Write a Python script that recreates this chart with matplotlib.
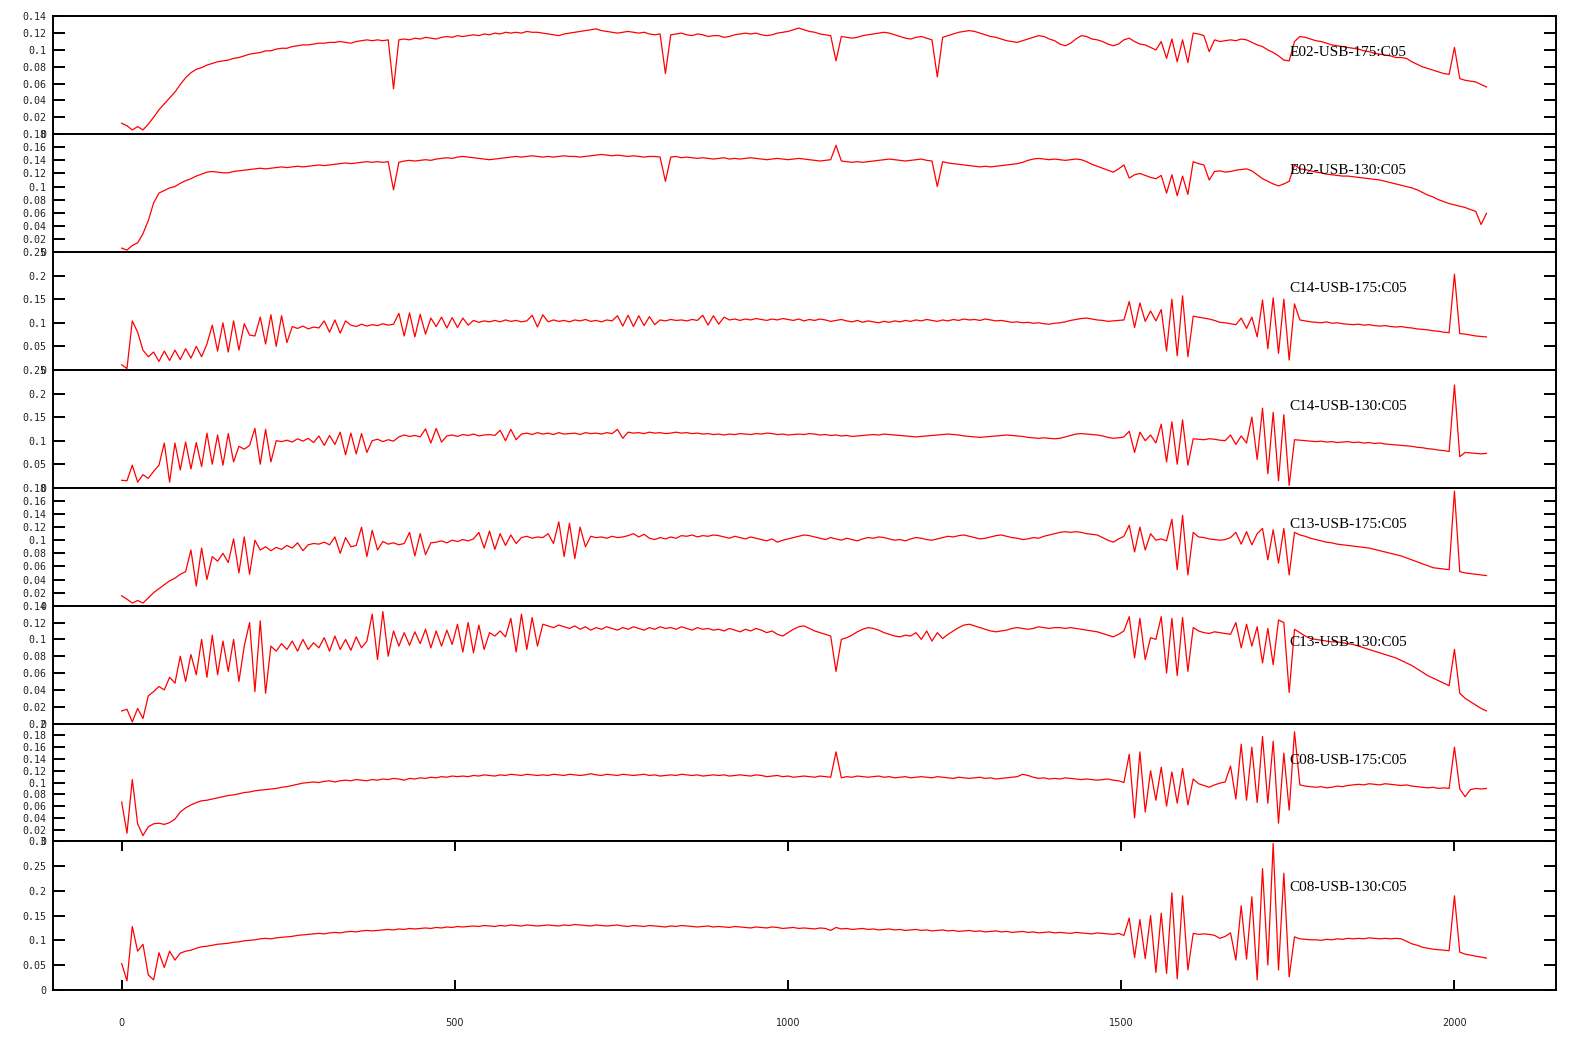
import numpy as np
import matplotlib
matplotlib.use('Agg')
import matplotlib.pyplot as plt

# every 8th channel of the 2048-channel spectra
channels = np.arange(0, 2049, 8)

# values, in units of 1e-3
e02_175 = [
    13, 10, 5, 9, 5, 12, 20, 29, 36, 43, 50, 59, 67, 73, 77, 79,
    82, 84, 86, 87, 88, 90, 91, 93, 95, 96, 97, 99, 99, 101, 102, 102,
    104, 105, 106, 106, 107, 108, 108, 109, 109, 110, 109, 108, 110, 111, 112, 111,
    112, 111, 112, 54, 112, 113, 112, 114, 113, 115, 114, 113, 115, 116, 115, 117,
    116, 117, 118, 117, 119, 118, 120, 119, 121, 120, 121, 120, 122, 121, 121, 120,
    119, 118, 117, 119, 120, 121, 122, 123, 124, 125, 123, 122, 121, 120, 121, 122,
    121, 120, 121, 119, 118, 119, 72, 118, 119, 120, 118, 117, 119, 118, 116, 117,
    117, 115, 116, 118, 119, 120, 119, 120, 118, 117, 118, 120, 121, 122, 124, 126,
    124, 122, 121, 119, 118, 117, 87, 116, 115, 114, 115, 117, 118, 119, 120, 121,
    120, 118, 116, 114, 113, 115, 116, 114, 112, 68, 115, 117, 119, 121, 122, 123,
    122, 120, 118, 116, 115, 113, 111, 110, 109, 111, 113, 115, 117, 116, 113, 111,
    107, 105, 108, 113, 117, 116, 113, 112, 110, 107, 105, 107, 112, 114, 110, 107,
    106, 103, 100, 110, 90, 113, 86, 112, 85, 120, 119, 117, 98, 112, 110, 111,
    112, 111, 113, 112, 109, 106, 104, 100, 97, 93, 88, 87, 110, 116, 115, 113,
    111, 110, 108, 106, 105, 104, 103, 102, 101, 99, 98, 96, 95, 94, 93, 91,
    91, 90, 86, 83, 80, 78, 76, 74, 72, 71, 103, 66, 64, 63, 62, 59,
    56]

e02_130 = [
    6, 3, 10, 14, 28, 48, 75, 90, 94, 98, 100, 105, 109, 112, 116, 119,
    122, 123, 122, 121, 121, 123, 124, 125, 126, 127, 128, 127, 128, 129, 130, 129,
    130, 131, 130, 131, 132, 133, 132, 133, 134, 135, 136, 135, 136, 137, 138, 137,
    138, 137, 138, 95, 137, 139, 140, 139, 140, 141, 140, 142, 143, 144, 143, 145,
    146, 145, 144, 143, 142, 141, 142, 143, 144, 145, 146, 145, 146, 147, 146, 145,
    146, 145, 146, 147, 146, 146, 145, 146, 147, 148, 149, 148, 147, 148, 147, 146,
    147, 146, 145, 146, 146, 145, 108, 145, 146, 144, 145, 144, 143, 144, 143, 142,
    143, 144, 142, 143, 142, 143, 144, 143, 142, 141, 142, 143, 142, 141, 142, 143,
    142, 141, 140, 139, 140, 141, 163, 139, 138, 137, 138, 137, 138, 139, 140, 141,
    142, 141, 140, 139, 140, 141, 142, 140, 139, 100, 138, 136, 135, 134, 133, 132,
    131, 130, 131, 130, 131, 132, 133, 134, 135, 137, 140, 142, 143, 142, 141, 142,
    141, 140, 141, 142, 141, 138, 134, 131, 128, 125, 122, 127, 133, 113, 118, 120,
    117, 114, 112, 117, 90, 118, 86, 116, 88, 138, 135, 133, 110, 123, 124, 122,
    123, 125, 126, 127, 124, 118, 112, 108, 104, 101, 104, 108, 133, 127, 126, 124,
    122, 121, 119, 118, 117, 116, 116, 115, 114, 113, 112, 111, 110, 108, 106, 104,
    102, 100, 98, 95, 91, 87, 84, 80, 77, 74, 72, 70, 68, 65, 62, 42,
    59]

c14_175 = [
    11, 3, 104, 80, 42, 28, 38, 18, 40, 20, 42, 22, 45, 25, 50, 28,
    55, 95, 40, 100, 38, 104, 42, 98, 74, 72, 112, 55, 117, 50, 115, 58,
    92, 88, 93, 87, 91, 89, 104, 80, 106, 78, 104, 95, 92, 97, 93, 96,
    94, 98, 95, 97, 120, 72, 121, 70, 118, 76, 110, 92, 112, 89, 111, 90,
    110, 95, 105, 101, 104, 102, 105, 102, 106, 103, 105, 102, 104, 116, 91, 117,
    102, 106, 103, 105, 102, 106, 104, 107, 103, 105, 102, 106, 104, 115, 93, 116,
    92, 115, 94, 113, 96, 106, 104, 107, 105, 106, 104, 107, 105, 116, 95, 115,
    97, 112, 106, 108, 105, 108, 106, 109, 107, 105, 108, 106, 109, 107, 105, 108,
    104, 107, 105, 108, 106, 103, 105, 107, 104, 102, 105, 101, 104, 102, 100, 103,
    101, 104, 102, 105, 103, 106, 104, 107, 105, 103, 106, 104, 107, 105, 108, 106,
    107, 105, 108, 106, 104, 105, 103, 101, 102, 100, 101, 99, 100, 98, 97, 99,
    100, 102, 105, 107, 109, 110, 108, 106, 105, 103, 104, 105, 106, 145, 90, 142,
    103, 125, 104, 128, 40, 150, 30, 157, 28, 114, 112, 110, 108, 105, 101, 100,
    98, 96, 110, 88, 112, 70, 148, 45, 153, 35, 150, 21, 140, 106, 104, 102,
    101, 100, 102, 99, 100, 98, 97, 96, 97, 95, 96, 94, 93, 94, 92, 91,
    92, 90, 89, 87, 86, 85, 83, 82, 80, 79, 203, 77, 76, 74, 72, 71,
    70]

c14_130 = [
    16, 15, 48, 12, 28, 20, 35, 48, 95, 12, 95, 38, 97, 40, 96, 45,
    116, 50, 112, 48, 115, 55, 88, 82, 90, 126, 50, 124, 55, 100, 98, 101,
    97, 104, 99, 105, 96, 110, 90, 111, 92, 118, 70, 116, 72, 115, 75, 100,
    103, 98, 102, 99, 108, 112, 109, 111, 108, 125, 95, 126, 97, 110, 112, 109,
    113, 111, 114, 110, 112, 113, 111, 122, 100, 124, 102, 114, 116, 113, 117, 114,
    116, 113, 117, 114, 115, 116, 113, 117, 115, 116, 114, 117, 115, 124, 105, 118,
    116, 117, 115, 118, 116, 117, 115, 116, 118, 116, 117, 115, 116, 114, 115, 113,
    114, 112, 114, 113, 115, 114, 113, 115, 114, 116, 115, 113, 114, 112, 113, 114,
    113, 115, 114, 112, 113, 111, 112, 110, 111, 109, 110, 111, 112, 113, 112, 114,
    113, 112, 111, 110, 109, 108, 109, 110, 111, 112, 113, 114, 113, 112, 110, 109,
    108, 107, 108, 109, 110, 111, 112, 111, 110, 109, 107, 106, 105, 106, 105, 104,
    105, 108, 111, 114, 115, 114, 113, 112, 110, 107, 105, 106, 108, 120, 75, 118,
    100, 112, 95, 135, 55, 140, 50, 144, 48, 104, 103, 102, 104, 103, 101, 100,
    112, 92, 110, 95, 150, 60, 169, 30, 160, 15, 155, 5, 102, 101, 100, 99,
    98, 99, 97, 98, 96, 97, 98, 96, 97, 95, 96, 94, 95, 93, 92, 91,
    90, 89, 88, 86, 85, 83, 82, 80, 79, 77, 218, 66, 75, 74, 73, 72,
    73]

c13_175 = [
    15, 10, 4, 8, 4, 12, 20, 26, 32, 38, 42, 48, 52, 85, 30, 88,
    40, 75, 68, 80, 66, 102, 50, 105, 48, 100, 85, 90, 84, 89, 86, 92,
    88, 96, 84, 93, 95, 94, 97, 93, 105, 80, 104, 90, 92, 120, 75, 115,
    85, 98, 94, 96, 93, 95, 112, 76, 110, 78, 96, 97, 99, 96, 100, 98,
    101, 99, 102, 112, 88, 114, 86, 110, 92, 108, 95, 104, 106, 103, 105, 104,
    110, 95, 128, 75, 126, 72, 120, 90, 106, 104, 105, 103, 106, 104, 105, 107,
    110, 105, 109, 103, 101, 104, 102, 105, 103, 107, 106, 108, 105, 107, 106, 108,
    107, 105, 103, 106, 104, 102, 105, 103, 101, 99, 102, 97, 100, 102, 104, 106,
    108, 107, 105, 103, 101, 104, 102, 100, 103, 101, 99, 102, 104, 103, 105, 104,
    102, 100, 101, 99, 102, 104, 103, 101, 100, 102, 104, 106, 105, 107, 108, 106,
    104, 102, 103, 105, 107, 108, 106, 104, 103, 101, 102, 104, 103, 106, 108, 110,
    112, 113, 112, 113, 112, 110, 109, 108, 104, 100, 97, 102, 106, 123, 82, 120,
    85, 110, 100, 102, 99, 132, 55, 138, 47, 112, 105, 104, 102, 101, 100, 101,
    104, 112, 94, 113, 93, 110, 118, 70, 116, 65, 118, 47, 112, 108, 106, 103,
    101, 99, 97, 96, 94, 93, 92, 91, 90, 89, 88, 86, 84, 82, 80, 78,
    76, 73, 70, 67, 64, 61, 58, 57, 56, 55, 175, 52, 50, 49, 48, 47,
    46]

c13_130 = [
    15, 17, 2, 18, 6, 33, 38, 44, 40, 55, 48, 80, 50, 82, 58, 100,
    55, 105, 58, 98, 62, 100, 50, 92, 120, 38, 122, 36, 92, 86, 95, 88,
    98, 86, 100, 88, 96, 90, 102, 86, 104, 88, 100, 87, 103, 90, 98, 130,
    76, 133, 80, 110, 92, 108, 93, 109, 95, 112, 90, 110, 92, 111, 94, 118,
    85, 120, 84, 117, 88, 108, 104, 110, 103, 125, 85, 130, 88, 126, 92, 118,
    116, 114, 117, 115, 113, 116, 112, 115, 111, 114, 112, 115, 113, 111, 114, 112,
    115, 113, 111, 114, 112, 115, 113, 114, 112, 115, 113, 111, 114, 112, 113, 111,
    112, 110, 113, 111, 109, 112, 110, 113, 111, 108, 110, 106, 104, 108, 112, 115,
    116, 113, 110, 108, 106, 104, 62, 100, 102, 105, 109, 112, 114, 113, 111, 108,
    106, 104, 103, 105, 104, 108, 100, 110, 98, 108, 101, 106, 110, 114, 117, 118,
    116, 114, 112, 110, 109, 110, 111, 113, 114, 113, 112, 113, 115, 114, 113, 114,
    114, 113, 114, 113, 112, 111, 110, 109, 107, 105, 103, 106, 110, 127, 78, 125,
    76, 102, 100, 127, 60, 125, 57, 126, 62, 114, 110, 108, 107, 109, 108, 107,
    106, 120, 90, 118, 92, 115, 72, 113, 70, 123, 120, 37, 112, 108, 104, 101,
    100, 99, 98, 97, 97, 96, 95, 94, 92, 90, 88, 86, 84, 82, 80, 78,
    75, 72, 69, 65, 61, 57, 54, 51, 48, 45, 88, 36, 30, 26, 22, 18,
    15]

c08_175 = [
    67, 14, 105, 30, 10, 25, 30, 31, 29, 32, 38, 50, 57, 62, 66, 69,
    70, 72, 74, 76, 78, 79, 81, 83, 84, 86, 87, 88, 89, 90, 92, 93,
    95, 97, 99, 100, 101, 100, 102, 103, 101, 103, 104, 103, 105, 104, 103, 105,
    104, 106, 105, 107, 106, 104, 107, 106, 108, 107, 109, 108, 110, 109, 111, 110,
    111, 110, 112, 111, 113, 112, 111, 113, 112, 114, 113, 112, 114, 113, 112, 113,
    112, 114, 113, 112, 114, 113, 112, 113, 115, 113, 112, 114, 113, 112, 114, 113,
    112, 113, 114, 112, 113, 111, 112, 113, 112, 114, 113, 112, 113, 111, 112, 113,
    112, 113, 111, 112, 113, 112, 111, 113, 112, 110, 111, 112, 110, 111, 109, 110,
    111, 110, 109, 111, 110, 109, 152, 108, 110, 109, 111, 110, 109, 110, 111, 109,
    110, 108, 109, 110, 108, 109, 110, 109, 108, 110, 109, 108, 107, 109, 108, 107,
    108, 109, 107, 108, 106, 107, 108, 109, 110, 114, 112, 109, 107, 108, 106, 107,
    106, 108, 107, 106, 105, 106, 105, 104, 105, 106, 104, 103, 100, 148, 40, 152,
    50, 120, 70, 126, 60, 118, 65, 124, 62, 106, 98, 95, 92, 96, 99, 101,
    128, 72, 165, 70, 160, 66, 178, 65, 170, 31, 150, 53, 186, 96, 94, 93,
    92, 93, 91, 92, 94, 93, 95, 96, 97, 96, 98, 97, 96, 98, 97, 96,
    95, 96, 94, 93, 92, 91, 92, 90, 91, 90, 160, 89, 76, 88, 90, 89,
    90]

c08_130 = [
    53, 18, 128, 78, 92, 30, 20, 75, 45, 78, 60, 74, 78, 80, 84, 87,
    88, 90, 92, 93, 94, 96, 97, 99, 100, 101, 103, 104, 103, 105, 106, 107,
    108, 110, 111, 112, 113, 114, 113, 115, 116, 115, 117, 118, 117, 119, 120, 119,
    120, 121, 122, 121, 123, 122, 124, 123, 124, 125, 124, 126, 125, 127, 126, 128,
    127, 128, 129, 128, 130, 129, 128, 130, 129, 131, 130, 129, 131, 130, 129, 130,
    131, 130, 129, 131, 130, 132, 131, 130, 129, 131, 130, 129, 130, 131, 129, 128,
    130, 129, 128, 130, 129, 128, 127, 129, 128, 130, 129, 128, 127, 128, 129, 127,
    128, 127, 126, 128, 127, 126, 125, 127, 126, 125, 127, 126, 124, 125, 126, 124,
    125, 124, 123, 125, 124, 120, 126, 123, 124, 122, 123, 124, 122, 123, 121, 122,
    123, 121, 122, 120, 121, 122, 120, 121, 119, 120, 121, 119, 120, 118, 119, 120,
    118, 119, 117, 118, 119, 117, 118, 116, 117, 118, 116, 117, 115, 116, 117, 115,
    116, 115, 114, 116, 115, 114, 113, 115, 114, 113, 112, 114, 110, 145, 65, 142,
    63, 150, 35, 155, 33, 196, 22, 190, 40, 114, 112, 113, 112, 110, 104, 108,
    115, 60, 170, 62, 188, 20, 245, 50, 296, 40, 236, 26, 107, 103, 102, 101,
    101, 100, 102, 101, 103, 102, 104, 103, 104, 103, 105, 104, 103, 104, 103, 104,
    103, 98, 93, 90, 86, 84, 82, 81, 80, 79, 190, 76, 72, 70, 68, 66,
    64]

names = ['E02-USB-175:C05', 'E02-USB-130:C05', 'C14-USB-175:C05', 'C14-USB-130:C05',
         'C13-USB-175:C05', 'C13-USB-130:C05', 'C08-USB-175:C05', 'C08-USB-130:C05']
series = [e02_175, e02_130, c14_175, c14_130, c13_175, c13_130, c08_175, c08_130]
y_top = [0.14, 0.18, 0.25, 0.25, 0.18, 0.14, 0.2, 0.3]
y_step = [0.02, 0.02, 0.05, 0.05, 0.02, 0.02, 0.02, 0.05]
x_ticks = [0, 500, 1000, 1500, 2000]

fig = plt.figure(figsize=(15.82, 10.64), dpi=100)
gs = fig.add_gridspec(8, 1, height_ratios=[118] * 7 + [148.4], hspace=0,
                      left=0.0335, right=0.9834, top=0.9847, bottom=0.0698)

for i, (name, vals) in enumerate(zip(names, series)):
    ax = fig.add_subplot(gs[i])
    ax.plot(channels, np.array(vals) / 1000.0, color='red', lw=0.9)
    ax.set_xlim(-103, 2152)
    ax.set_ylim(0, y_top[i])

    ticks = np.round(np.arange(0, y_top[i] + y_step[i] / 2, y_step[i]), 3)
    ax.set_yticks(ticks)
    ax.set_yticklabels(['%g' % t for t in ticks], fontfamily='DejaVu Sans Mono',
                       fontsize=7.2, color='#222222')
    ax.tick_params(axis='y', direction='in', left=True, right=True,
                   length=8.6, width=1.4, pad=5)

    if i == len(names) - 1:
        ax.set_xticks(x_ticks)
        ax.set_xticklabels([str(t) for t in x_ticks], fontfamily='DejaVu Sans',
                           fontsize=7, color='#222222')
        ax.tick_params(axis='x', direction='in', bottom=True, top=True,
                       length=7, width=1.4, pad=20)
    else:
        ax.tick_params(axis='x', bottom=False, labelbottom=False)

    for s in ax.spines.values():
        s.set_linewidth(1.4)

    ax.text(1752, 0.69, name, transform=ax.get_xaxis_transform(),
            fontfamily='Liberation Serif', fontsize=11, ha='left', va='center')

fig.savefig('out.png', dpi=100)
